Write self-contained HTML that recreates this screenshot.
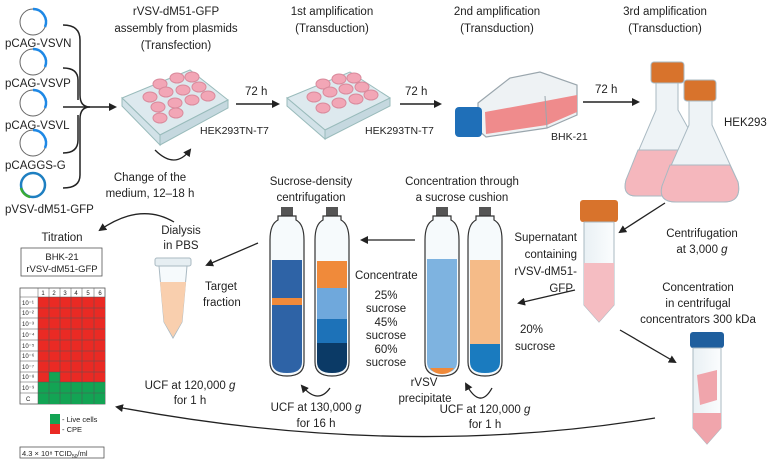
<!DOCTYPE html>
<html><head><meta charset="utf-8"><style>
html,body{margin:0;padding:0;background:#fff;}
svg{display:block;font-family:"Liberation Sans",sans-serif;}
text{fill:#222;font-size:11.5px;}
.c{text-anchor:middle;}
</style></head><body>
<svg width="784" height="470" viewBox="0 0 784 470" xmlns="http://www.w3.org/2000/svg">
<defs>
<marker id="a" markerWidth="8" markerHeight="8" refX="6" refY="4" orient="auto" markerUnits="userSpaceOnUse"><path d="M0,0 L8,4 L0,8 Z" fill="#222"/></marker>
<linearGradient id="tube" x1="0" x2="1"><stop offset="0" stop-color="#e9f0f4"/><stop offset="1" stop-color="#fbfdfe"/></linearGradient>
</defs>

<!-- plasmids -->
<g fill="none" stroke-width="1">
<circle cx="33" cy="22" r="13" stroke="#666"/><path d="M33,9 A13,13 0 0 1 45,27" stroke="#1e88e5" stroke-width="2.5"/>
<circle cx="33" cy="62" r="13" stroke="#666"/><path d="M33,49 A13,13 0 0 1 45,67" stroke="#1e88e5" stroke-width="2.5"/>
<circle cx="33" cy="103" r="13" stroke="#666"/><path d="M33,90 A13,13 0 0 1 45,108" stroke="#1e88e5" stroke-width="2.5"/>
<circle cx="33" cy="143" r="13" stroke="#666"/><path d="M33,130 A13,13 0 0 1 45,148" stroke="#1e88e5" stroke-width="2.5"/>
<circle cx="33" cy="185" r="12" stroke="#1e7fc1" stroke-width="2.5"/><path d="M21,188 A12,12 0 0 0 30,197" stroke="#3aaa35" stroke-width="2.5"/>
</g>
<text x="5" y="47">pCAG-VSVN</text>
<text x="5" y="87">pCAG-VSVP</text>
<text x="5" y="129">pCAG-VSVL</text>
<text x="5" y="169">pCAGGS-G</text>
<text x="5" y="213">pVSV-dM51-GFP</text>
<!-- braces -->
<g fill="none" stroke="#222" stroke-width="1.5">
<path d="M63,25 Q80,25 80,40 L80,95 Q80,107 90,107 Q80,107 80,119 L80,175 Q80,188 63,188"/>
<path d="M63,68 Q78,68 78,80 L78,100"/>
<path d="M63,153 Q78,153 78,140 L78,115"/>
<path d="M63,107 L115,107" marker-end="url(#a)"/>
</g>

<!-- titles -->
<text class="c" x="176" y="15">rVSV-dM51-GFP</text>
<text class="c" x="176" y="32">assembly from plasmids</text>
<text class="c" x="176" y="49">(Transfection)</text>
<text class="c" x="332" y="15">1st amplification</text>
<text class="c" x="332" y="32">(Transduction)</text>
<text class="c" x="497" y="15">2nd amplification</text>
<text class="c" x="497" y="32">(Transduction)</text>
<text class="c" x="665" y="15">3rd amplification</text>
<text class="c" x="665" y="32">(Transduction)</text>

<!-- plate 1 -->
<g>
<path d="M122,98 L190,70 L228,100 L160,135 Z" fill="#dde9ee" stroke="#9bb" />
<path d="M160,135 L228,100 L228,108 L160,145 Z" fill="#c5d8df" stroke="#9bb"/>
<path d="M122,98 L160,135 L160,145 L122,106 Z" fill="#d2e2e8" stroke="#9bb"/>
<g fill="#f2a6b6" stroke="#d98a9c">
<ellipse cx="160" cy="84" rx="7" ry="5"/><ellipse cx="177" cy="78" rx="7" ry="5"/><ellipse cx="192" cy="77" rx="7" ry="5"/>
<ellipse cx="150" cy="97" rx="7" ry="5"/><ellipse cx="166" cy="92" rx="7" ry="5"/><ellipse cx="183" cy="90" rx="7" ry="5"/><ellipse cx="199" cy="87" rx="7" ry="5"/>
<ellipse cx="158" cy="107" rx="7" ry="5"/><ellipse cx="175" cy="103" rx="7" ry="5"/><ellipse cx="192" cy="100" rx="7" ry="5"/><ellipse cx="208" cy="96" rx="7" ry="5"/>
<ellipse cx="160" cy="118" rx="7" ry="5"/><ellipse cx="176" cy="113" rx="7" ry="5"/>
</g></g>
<text x="200" y="134" style="font-size:10.5px">HEK293TN-T7</text>
<path d="M155,150 Q175,170 190,150" fill="none" stroke="#222" stroke-width="1.3" marker-end="url(#a)"/>
<text class="c" x="150" y="181">Change of the</text>
<text class="c" x="150" y="197">medium, 12–18 h</text>

<path d="M236,104 L278,104" stroke="#222" stroke-width="1.5" marker-end="url(#a)"/>
<text x="245" y="95">72 h</text>

<!-- plate 2 -->
<g>
<path d="M287,98 L350,72 L390,98 L325,130 Z" fill="#dde9ee" stroke="#9bb"/>
<path d="M325,130 L390,98 L390,106 L325,139 Z" fill="#c5d8df" stroke="#9bb"/>
<path d="M287,98 L325,130 L325,139 L287,106 Z" fill="#d2e2e8" stroke="#9bb"/>
<g fill="#f2a6b6" stroke="#d98a9c">
<ellipse cx="323" cy="84" rx="7" ry="5"/><ellipse cx="339" cy="79" rx="7" ry="5"/><ellipse cx="354" cy="78" rx="7" ry="5"/>
<ellipse cx="314" cy="97" rx="7" ry="5"/><ellipse cx="330" cy="92" rx="7" ry="5"/><ellipse cx="346" cy="89" rx="7" ry="5"/><ellipse cx="362" cy="87" rx="7" ry="5"/>
<ellipse cx="323" cy="108" rx="7" ry="5"/><ellipse cx="339" cy="103" rx="7" ry="5"/><ellipse cx="356" cy="99" rx="7" ry="5"/><ellipse cx="371" cy="95" rx="7" ry="5"/>
</g></g>
<text x="365" y="134" style="font-size:10.5px">HEK293TN-T7</text>
<path d="M400,104 L440,104" stroke="#222" stroke-width="1.5" marker-end="url(#a)"/>
<text x="405" y="95">72 h</text>

<!-- flask BHK -->
<path d="M478,103 L510,78 L540,72 L577,85 L577,115 L547,128 L486,137 L478,130 Z" fill="#eef2f4" stroke="#9aa6ad" stroke-width="1.2"/>
<path d="M485,112 L540,102 L577,95 L577,112 L547,125 L486,134 Z" fill="#ef8b8c"/>
<path d="M545,96 L547,128" stroke="#9aa6ad"/>
<rect x="455" y="107" width="27" height="30" rx="4" fill="#1f6fb8"/>
<text x="551" y="140" style="font-size:10.5px">BHK-21</text>
<path d="M583,102 L638,102" stroke="#222" stroke-width="1.5" marker-end="url(#a)"/>
<text x="595" y="93">72 h</text>

<!-- erlenmeyer flasks -->
<g stroke="#a9b9c2">
<path d="M656,82 L678,82 L678,110 L716,178 Q720,196 700,196 L636,196 Q622,196 626,180 L656,110 Z" fill="#eef3f6"/>
<path d="M638,150 L698,150 L716,178 Q720,196 700,196 L636,196 Q622,196 626,180 Z" fill="#f5b7bd"/>
<rect x="651" y="62" width="33" height="21" rx="3" fill="#d8732c"/>
<path d="M689,100 L712,100 L712,125 L738,182 Q742,202 724,202 L676,202 Q658,202 662,186 L689,125 Z" fill="#eef3f6"/>
<path d="M670,165 L730,165 L738,182 Q742,202 724,202 L676,202 Q658,202 662,186 Z" fill="#f5b7bd"/>
<rect x="684" y="80" width="32" height="21" rx="3" fill="#d8732c"/>
</g>
<text x="724" y="126">HEK293</text>
<path d="M665,203 L620,232" stroke="#222" stroke-width="1.3" marker-end="url(#a)"/>

<!-- falcon orange -->
<rect x="580" y="200" width="38" height="22" rx="3" fill="#d8732c"/>
<path d="M584,222 L614,222 L614,305 L599,322 L584,305 Z" fill="url(#tube)" stroke="#a9b9c2"/>
<path d="M584,263 L614,263 L614,305 L599,322 L584,305 Z" fill="#f5bdc2"/>
<text class="c" x="702" y="237">Centrifugation</text>
<text class="c" x="702" y="253">at 3,000 <tspan font-style="italic">g</tspan></text>
<text class="c" x="698" y="291">Concentration</text>
<text class="c" x="698" y="307">in centrifugal</text>
<text class="c" x="698" y="323">concentrators 300 kDa</text>
<path d="M620,330 L675,362" stroke="#222" stroke-width="1.3" marker-end="url(#a)"/>

<!-- concentrator blue -->
<rect x="690" y="332" width="34" height="16" rx="3" fill="#1f5f9e"/>
<path d="M693,348 L721,348 L721,428 L707,444 L693,428 Z" fill="url(#tube)" stroke="#a9b9c2"/>
<path d="M697,375 L717,370 L717,400 L700,405 Z" fill="#f0a5ac"/>
<path d="M693,413 L721,413 L721,428 L707,444 L693,428 Z" fill="#f0a5ac"/>

<!-- supernatant -->
<g text-anchor="end">
<text x="577" y="241">Supernatant</text>
<text x="577" y="258">containing</text>
<text x="577" y="275">rVSV-dM51-</text>
<text x="573" y="292">GFP</text>
</g>
<path d="M575,290 L519,303" stroke="#222" stroke-width="1.3" marker-end="url(#a)"/>
<text x="520" y="333">20%</text>
<text x="515" y="350">sucrose</text>

<!-- tubes -->
<g stroke="#333" stroke-width="1.2">
<rect x="281" y="207" width="12" height="9" fill="#555" stroke="none"/>
<path d="M270,240 Q270,224 278,220 L278,216 L296,216 L296,220 Q304,224 304,240 L304,362 Q304,376 287,376 Q270,376 270,362 Z" fill="#f6fafc"/>
<path d="M272,260 L302,260 L302,362 Q302,373 287,373 Q272,373 272,362 Z" fill="#2e63a6" stroke="none"/>
<rect x="272" y="298" width="30" height="7" fill="#f08a3a" stroke="none"/>
<rect x="326" y="207" width="12" height="9" fill="#555" stroke="none"/>
<path d="M315,240 Q315,224 323,220 L323,216 L341,216 L341,220 Q349,224 349,240 L349,362 Q349,376 332,376 Q315,376 315,362 Z" fill="#f6fafc"/>
<rect x="317" y="261" width="30" height="27" fill="#f08a3a" stroke="none"/>
<rect x="317" y="288" width="30" height="31" fill="#6fa8dc" stroke="none"/>
<rect x="317" y="319" width="30" height="24" fill="#1d72b8" stroke="none"/>
<path d="M317,343 L347,343 L347,362 Q347,373 332,373 Q317,373 317,362 Z" fill="#0b3a66" stroke="none"/>
<rect x="436" y="207" width="12" height="9" fill="#555" stroke="none"/>
<path d="M425,240 Q425,224 433,220 L433,216 L451,216 L451,220 Q459,224 459,240 L459,362 Q459,376 442,376 Q425,376 425,362 Z" fill="#f6fafc"/>
<path d="M427,259 L457,259 L457,362 Q457,373 442,373 Q427,373 427,362 Z" fill="#7eb3e0" stroke="none"/>
<path d="M430,368 L454,368 Q450,374 442,374 Q434,374 430,368 Z" fill="#f08a3a" stroke="none"/>
<rect x="479" y="207" width="12" height="9" fill="#555" stroke="none"/>
<path d="M468,240 Q468,224 476,220 L476,216 L494,216 L494,220 Q502,224 502,240 L502,362 Q502,376 485,376 Q468,376 468,362 Z" fill="#f6fafc"/>
<rect x="470" y="260" width="30" height="84" fill="#f5bb88" stroke="none"/>
<path d="M470,344 L500,344 L500,362 Q500,373 485,373 Q470,373 470,362 Z" fill="#1a7bbf" stroke="none"/>
</g>
<text class="c" x="311" y="185">Sucrose-density</text>
<text class="c" x="311" y="201">centrifugation</text>
<text class="c" x="462" y="185">Concentration through</text>
<text class="c" x="462" y="201">a sucrose cushion</text>
<path d="M415,240 L362,240" stroke="#222" stroke-width="1.3" marker-end="url(#a)"/>
<text x="355" y="279">Concentrate</text>
<text class="c" x="386" y="299">25%</text><text class="c" x="386" y="312">sucrose</text>
<text class="c" x="386" y="326">45%</text><text class="c" x="386" y="339">sucrose</text>
<text class="c" x="386" y="353">60%</text><text class="c" x="386" y="366">sucrose</text>
<path d="M330,388 Q318,405 302,386" fill="none" stroke="#222" stroke-width="1.3" marker-end="url(#a)"/>
<text class="c" x="316" y="411">UCF at 130,000 <tspan font-style="italic">g</tspan></text>
<text class="c" x="316" y="427">for 16 h</text>
<text class="c" x="424" y="386">rVSV</text>
<text class="c" x="425" y="402">precipitate</text>
<path d="M492,388 Q480,410 466,384" fill="none" stroke="#222" stroke-width="1.3" marker-end="url(#a)"/>
<text class="c" x="485" y="413">UCF at 120,000 <tspan font-style="italic">g</tspan></text>
<text class="c" x="485" y="428">for 1 h</text>

<path d="M655,418 Q400,460 117,407" fill="none" stroke="#222" stroke-width="1.3" marker-end="url(#a)"/>

<!-- dialysis -->
<path d="M258,243 L207,265" stroke="#222" stroke-width="1.3" marker-end="url(#a)"/>
<text class="c" x="181" y="234">Dialysis</text>
<text class="c" x="181" y="249">in PBS</text>
<path d="M174,222 Q140,202 100,230" fill="none" stroke="#222" stroke-width="1.3" marker-end="url(#a)"/>
<rect x="155" y="258" width="36" height="8" rx="2" fill="#e6eef2" stroke="#a9b9c2"/>
<path d="M159,266 L187,266 L182,322 L173,338 L164,322 Z" fill="#f6fafc" stroke="#a9b9c2"/>
<path d="M160,282 L186,282 L182,322 L173,337 L164,322 Z" fill="#f9cfae"/>
<text x="205" y="290">Target</text>
<text x="203" y="306">fraction</text>
<text class="c" x="190" y="389">UCF at 120,000 <tspan font-style="italic">g</tspan></text>
<text class="c" x="190" y="404">for 1 h</text>

<!-- titration -->
<text class="c" x="62" y="241">Titration</text>
<rect x="21" y="248" width="81" height="28" fill="#fff" stroke="#555" stroke-width="0.8"/>
<text class="c" x="62" y="260" style="font-size:9.5px">BHK-21</text>
<text class="c" x="62" y="272" style="font-size:9.5px">rVSV-dM51-GFP</text>
<rect x="20" y="288" width="85" height="116" fill="#fff" stroke="#555" stroke-width="0.8"/>
<rect x="38" y="297" width="67" height="75" fill="#ea2a24"/>
<rect x="38" y="382" width="67" height="22" fill="#13a454"/>
<rect x="49" y="372" width="11" height="10" fill="#13a454"/>
<rect x="38" y="372" width="11" height="10" fill="#ea2a24"/>
<rect x="60" y="372" width="45" height="10" fill="#ea2a24"/>
<g stroke="#555" stroke-width="0.5">
<line x1="20" y1="297" x2="105" y2="297"/><line x1="20" y1="308" x2="105" y2="308"/><line x1="20" y1="318" x2="105" y2="318"/><line x1="20" y1="329" x2="105" y2="329"/><line x1="20" y1="340" x2="105" y2="340"/><line x1="20" y1="351" x2="105" y2="351"/><line x1="20" y1="361" x2="105" y2="361"/><line x1="20" y1="372" x2="105" y2="372"/><line x1="20" y1="382" x2="105" y2="382"/><line x1="20" y1="393" x2="105" y2="393"/>
<line x1="38" y1="288" x2="38" y2="404"/><line x1="49" y1="288" x2="49" y2="404"/><line x1="60" y1="288" x2="60" y2="404"/><line x1="71" y1="288" x2="71" y2="404"/><line x1="82" y1="288" x2="82" y2="404"/><line x1="94" y1="288" x2="94" y2="404"/>
</g>
<g text-anchor="middle">
<text x="43" y="295" style="font-size:6px">1</text><text x="54" y="295" style="font-size:6px">2</text><text x="65" y="295" style="font-size:6px">3</text><text x="76" y="295" style="font-size:6px">4</text><text x="88" y="295" style="font-size:6px">5</text><text x="100" y="295" style="font-size:6px">6</text>
</g>
<text x="22" y="305" style="font-size:6px">10⁻¹</text><text x="22" y="315" style="font-size:6px">10⁻²</text><text x="22" y="326" style="font-size:6px">10⁻³</text><text x="22" y="337" style="font-size:6px">10⁻⁴</text><text x="22" y="348" style="font-size:6px">10⁻⁵</text><text x="22" y="358" style="font-size:6px">10⁻⁶</text><text x="22" y="369" style="font-size:6px">10⁻⁷</text><text x="22" y="379" style="font-size:6px">10⁻⁸</text><text x="22" y="390" style="font-size:6px">10⁻⁹</text><text x="26" y="401" style="font-size:6px">C</text>
<rect x="50" y="414" width="10" height="10" fill="#13a454"/>
<rect x="50" y="424" width="10" height="10" fill="#ea2a24"/>
<text x="62" y="422" style="font-size:7.5px">- Live cells</text>
<text x="62" y="432" style="font-size:7.5px">- CPE</text>
<rect x="20" y="447" width="84" height="11" fill="#fff" stroke="#555" stroke-width="0.8"/>
<text x="22" y="456" style="font-size:7.5px">4.3 × 10⁸ TCID<tspan style="font-size:5px" dy="2">50</tspan><tspan dy="-2">/ml</tspan></text>
</svg>
</body></html>
